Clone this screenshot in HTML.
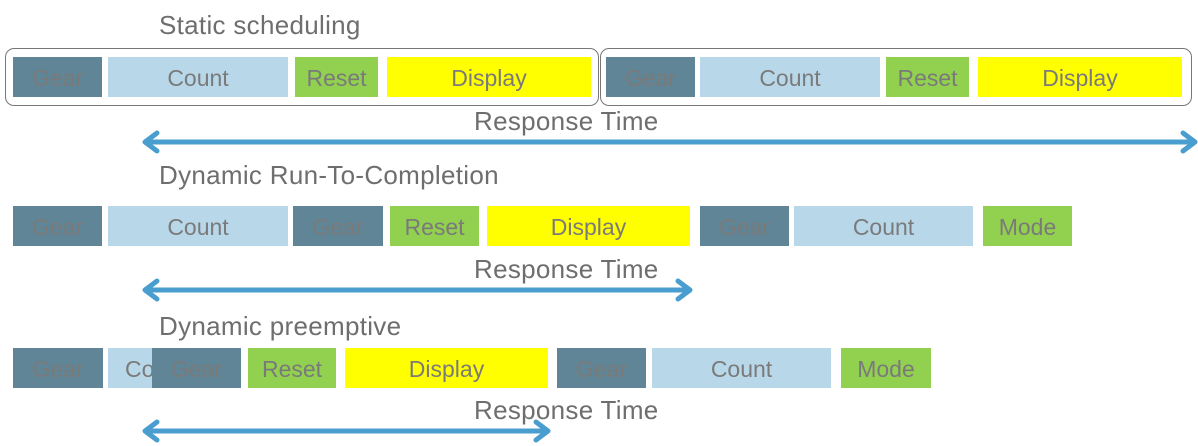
<!DOCTYPE html>
<html><head><meta charset="utf-8"><style>
body{margin:0;width:1198px;height:446px;background:#fff;position:relative;overflow:hidden;font-family:"Liberation Sans",sans-serif}
.t{position:absolute;color:#6e6e6e;font-size:26px;letter-spacing:0.3px;white-space:nowrap}
.b{position:absolute;display:flex;align-items:center;justify-content:center;color:#7a7a7a;font-size:23px;overflow:hidden;white-space:nowrap;height:40px;padding-top:2px;box-sizing:border-box}
.frame{position:absolute;border:1.5px solid #777;border-radius:9px}
svg{position:absolute;left:0;top:0}
</style></head><body>
<div class="t" style="left:159px;top:10px">Static scheduling</div>
<div class="t" style="left:159px;top:160px">Dynamic Run-To-Completion</div>
<div class="t" style="left:159px;top:311px">Dynamic preemptive</div>
<div class="frame" style="left:5px;top:48px;width:592px;height:56px"></div>
<div class="frame" style="left:600px;top:48px;width:590px;height:56px"></div>
<svg width="1198" height="446" id="arrows"></svg>
<div id="tasks"></div>
<script>
const taskNames=["Gear","Count","Reset","Display","Mode"];
const taskColors=["#5f8596","#b8d8ea","#92d050","#ffff00","#92d050"];
const row1Start=[13,108,295,387,606,700,886,978];
const row1End=[102,288,378,591,695,880,969,1182];
const row1Task=[0,1,2,3,0,1,2,3];
const row2Start=[13,108,293,390,487,700,794,983];
const row2End=[102,288,383,479,690,789,973,1072];
const row2Task=[0,1,0,2,3,0,1,4];
const row3Start=[13,108,152,248,345,557,652,841];
const row3End=[103,177,241,336,548,646,831,931];
const row3Task=[0,1,0,2,3,0,1,4];
const rowTops=[57,206,348];
const arrowStart=[145,145,145];
const arrowEnd=[1195,690,548];
const arrowY=[142,290,431];
const rows=[[row1Start,row1End,row1Task],[row2Start,row2End,row2Task],[row3Start,row3End,row3Task]];
const cont=document.getElementById('tasks');
rows.forEach((r,ri)=>{
  r[0].forEach((s,i)=>{
    const d=document.createElement('div');
    d.className='b';
    
    
    d.style.left=s+'px';d.style.top=rowTops[ri]+'px';
    d.style.width=(r[1][i]-s)+'px';
    d.style.background=taskColors[r[2][i]];
    if(ri===2&&i===1){d.style.justifyContent='flex-start';d.style.paddingLeft='17px';}
    d.textContent=taskNames[r[2][i]];
    cont.appendChild(d);
  });
});
const svg=document.getElementById('arrows');
const NS='http://www.w3.org/2000/svg';
arrowY.forEach((y,i)=>{
  const a=arrowStart[i],b=arrowEnd[i];
  const l=document.createElementNS(NS,'path');
  l.setAttribute('d',`M${a} ${y}H${b}M${a+12} ${y-9}L${a} ${y}L${a+12} ${y+9}M${b-12} ${y-9}L${b} ${y}L${b-12} ${y+9}`);
  l.setAttribute('stroke','#4a9dcf');l.setAttribute('stroke-width','5');l.setAttribute('fill','none');l.setAttribute('stroke-linecap','round');l.setAttribute('stroke-linejoin','round');
  
  
  svg.appendChild(l);
  const t=document.createElement('div');
  t.className='t';
  
  
  t.textContent='Response Time';
  t.style.left='474px';t.style.top=(y-36)+'px';
  document.body.appendChild(t);
});
</script>
</body></html>
